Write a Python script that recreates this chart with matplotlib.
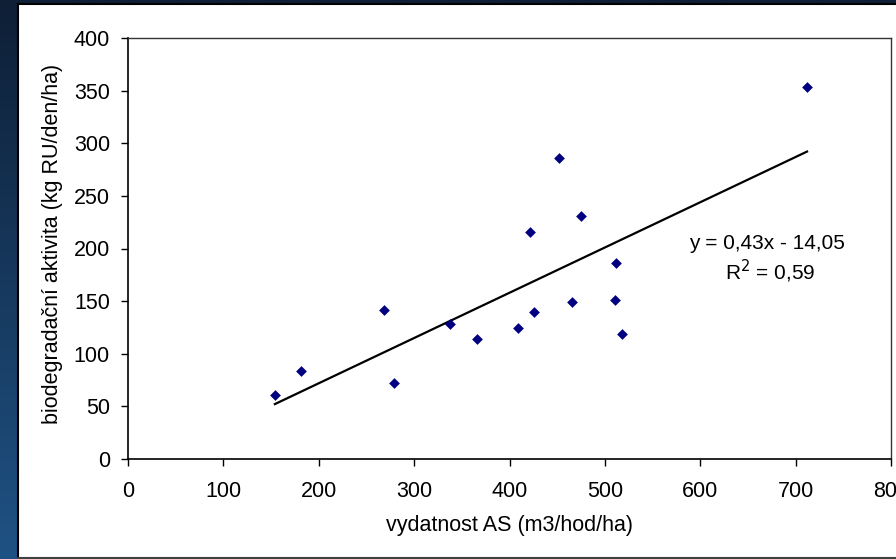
import numpy as np
import matplotlib.pyplot as plt
from matplotlib.patches import Rectangle

plt.rcParams['font.family'] = ['Liberation Sans', 'DejaVu Sans']

# data
vydatnost = [154, 181, 268, 279, 338, 366, 409, 426, 422, 452, 475, 466, 512, 511, 518, 712]
aktivita = [61, 84, 142, 72, 128, 114, 124, 140, 216, 286, 231, 149, 186, 151, 119, 353]
slope, intercept = 0.43, -14.05
xticks = [0, 100, 200, 300, 400, 500, 600, 700, 800]
yticks = [0, 50, 100, 150, 200, 250, 300, 350, 400]

fig = plt.figure(figsize=(8.96, 5.59), dpi=100)

# dark blue background with gradient
bg = fig.add_axes([0, 0, 1, 1], zorder=-10)
grad = np.linspace(0, 1, 256).reshape(-1, 1)
top = np.array([0x0e, 0x1f, 0x36]) / 255
bot = np.array([0x1f, 0x52, 0x84]) / 255
img = top + (bot - top) * grad[:, :, None]
bg.imshow(img, aspect='auto', extent=[0, 1, 0, 1], origin='upper')
bg.set_xlim(0, 1)
bg.set_ylim(0, 1)
bg.axis('off')

# white panel
W, H = 896, 559
bg.add_patch(Rectangle((19 / W, 1 - 557 / H), 1, (557 - 5) / H,
                       facecolor='white', edgecolor='none'))
bg.plot([18 / W, 18 / W], [1 - 557 / H, 1 - 4 / H], color='black', lw=1.5)
bg.plot([18 / W, 1], [1 - 4 / H, 1 - 4 / H], color='black', lw=1.5)
bg.plot([18 / W, 1], [1 - 558 / H, 1 - 558 / H], color='#404040', lw=1.5)

ax = fig.add_axes([128 / W, 1 - 459 / H, (891 - 128) / W, (459 - 38) / H])
ax.set_facecolor('white')
ax.scatter(vydatnost, aktivita, marker='D', s=30, color='#000080', zorder=3, linewidths=0)

xs = np.array([min(vydatnost), max(vydatnost)])
ax.plot(xs, slope * xs + intercept, color='black', lw=1.6)

ax.set_xlim(0, 800)
ax.set_ylim(0, 400)
ax.set_xticks(xticks)
ax.set_yticks(yticks)
ax.tick_params(direction='out', length=5, width=1, labelsize=15.5, color='black')
ax.tick_params(axis='x', pad=11)
ax.tick_params(axis='y', pad=8)
for s in ['left', 'bottom']:
    ax.spines[s].set_linewidth(1.2)
    ax.spines[s].set_color('black')
for s in ['top', 'right']:
    ax.spines[s].set_linewidth(1)
    ax.spines[s].set_color('#333333')

ax.set_xlabel('vydatnost AS (m3/hod/ha)', fontsize=15.5, labelpad=9)
ax.set_ylabel('biodegradační aktivita (kg RU/den/ha)', fontsize=15.5)
ax.yaxis.set_label_coords(-(128 - 63) / (891 - 128), 0.51)

ax.text(670, 205, 'y = 0,43x - 14,05', fontsize=15, ha='center', va='center')
ax.text(673, 178, 'R$^2$ = 0,59', fontsize=15, ha='center', va='center')

plt.savefig('out.png', dpi=100)
